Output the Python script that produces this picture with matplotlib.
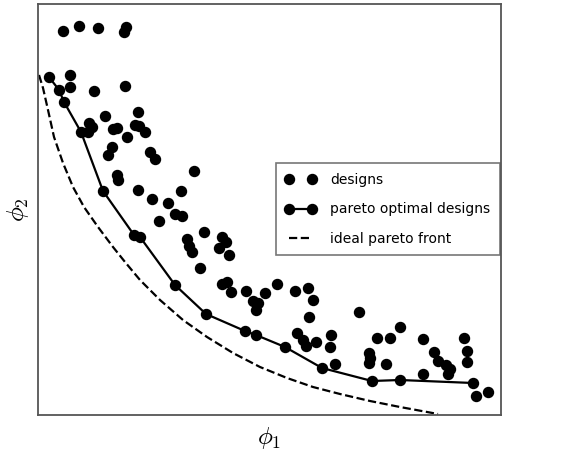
import numpy as np
import matplotlib
matplotlib.use('Agg')
import matplotlib.pyplot as plt

plt.rcParams['mathtext.fontset'] = 'cm'

# all designs (phi1, phi2), arbitrary units
design_x = [25, 41, 60, 88, 86, 32, 32, 56, 87, 100, 67, 51, 54, 50, 75, 79, 97, 101,
            107, 89, 74, 70, 112, 117, 156, 79, 80, 100, 143, 114, 130, 137, 144, 121,
            166, 149, 151, 154, 184, 188, 181, 191, 162, 184, 189, 193, 208, 227, 239,
            215, 220, 218, 257, 270, 275, 271, 259, 265, 268, 278, 293, 292, 297, 321,
            339, 352, 362, 331, 332, 331, 348, 385, 385, 396, 400, 408, 412, 410, 426,
            429, 429, 438, 450]
design_y = [384, 389, 387, 388, 383, 340, 328, 324, 329, 303, 299, 292, 288, 283, 286,
            287, 290, 289, 283, 278, 268, 260, 263, 256, 244, 240, 235, 225, 224, 216,
            212, 201, 199, 194, 183, 176, 169, 163, 178, 173, 167, 160, 147, 131, 133,
            123, 124, 122, 131, 114, 112, 105, 124, 127, 115, 98, 82, 75, 69, 73, 80,
            68, 51, 103, 77, 77, 88, 62, 57, 52, 51, 76, 41, 63, 54, 50, 46, 41, 77,
            64, 53, 19, 23]

# pareto optimal designs
pareto_x = [11, 21, 26, 43, 65, 96, 102, 137, 168, 207, 218, 247, 284, 334, 362, 435]
pareto_y = [338, 325, 313, 283, 224, 180, 178, 130, 101, 84, 80, 68, 47, 34, 35, 32]

# ideal pareto front
ideal_x = [1, 5, 10, 16, 25, 35, 46, 60, 75, 87, 102, 122, 145, 169, 195, 222, 249,
           275, 302, 332, 362, 400]
ideal_y = [340, 327, 305, 278, 252, 228, 208, 188, 168, 153, 135, 115, 95, 78, 62, 48,
           37, 28, 21, 14, 8, 1]

fig = plt.figure(figsize=(5.69, 4.54), dpi=100)
ax = fig.add_axes([0.0668, 0.0859, 0.8137, 0.9053])

ax.plot(design_x, design_y, 'ko', markersize=7.2, linestyle='none', label='designs')
ax.plot(pareto_x, pareto_y, 'k-o', markersize=7.2, linewidth=1.6,
        label='pareto optimal designs')
ax.plot(ideal_x, ideal_y, 'k--', linewidth=1.6, label='ideal pareto front')

ax.set_xlim(0, 463)
ax.set_ylim(0, 411)
ax.set_xticks([])
ax.set_yticks([])
for s in ax.spines.values():
    s.set_color('#555555')
    s.set_linewidth(1.3)

ax.set_xlabel(r'$\phi_1$', fontsize=18, labelpad=7)
ax.set_ylabel(r'$\phi_2$', fontsize=18, labelpad=5)

leg = ax.legend(loc='center right', bbox_to_anchor=(0.997, 0.5), borderaxespad=0,
                numpoints=2, fontsize=10, labelspacing=1.1, fancybox=False,
                handlelength=2.2, handletextpad=1.0, borderpad=0.7)
leg.get_frame().set_edgecolor('#555555')
leg.get_frame().set_linewidth(1.2)

fig.savefig('out.png', dpi=100)
